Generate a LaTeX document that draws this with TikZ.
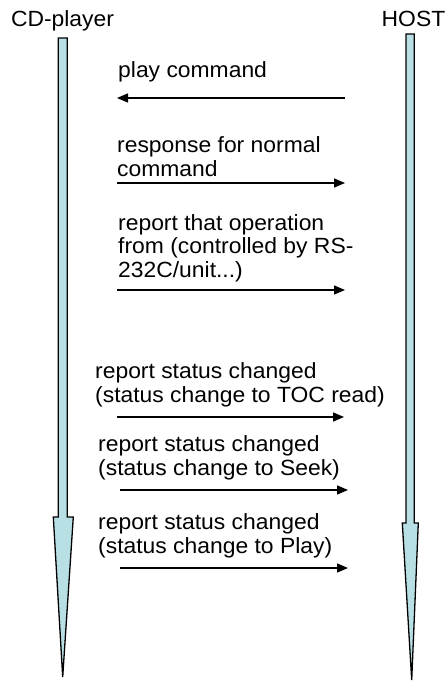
\documentclass[tikz,border=0pt]{standalone}
\usepackage{fontspec}
\setmainfont[FakeStretch=1.04]{Liberation Sans}
\usetikzlibrary{arrows.meta}
\definecolor{lifefill}{RGB}{184,223,228}
\begin{document}
\begin{tikzpicture}[x=1pt,y=-1pt,
  lifeline/.style={draw=black,fill=lifefill,line width=1.3pt,line join=miter},
  msg/.style={draw=black,line width=1.4pt,-{Triangle[length=11pt,width=9pt]}},
  lbl/.style={anchor=base west,inner sep=0pt,align=left,font=\fontsize{22}{23.5}\selectfont},
  head/.style={anchor=base,inner sep=0pt,font=\fontsize{22}{23.5}\selectfont}]
\useasboundingbox (0,0) rectangle (446,682);
% lifelines
\draw[lifeline] (58.3,38) -- (67.3,38) -- (67.3,517) -- (73.3,517) -- (62.7,677)
  -- (53.3,517) -- (58.3,517) -- cycle;
\draw[lifeline] (406,34) -- (414.3,34) -- (414.3,523) -- (418.3,523) -- (411.7,680)
  -- (402.3,523) -- (406,523) -- cycle;
% heads
\node[head] (cd) at (62.5,27) {CD-player};
\node[head] (host) at (413.5,27) {HOST};
% message endpoints
\coordinate (a1l) at (117,98);  \coordinate (a1r) at (345,98);
\coordinate (a2l) at (117,183); \coordinate (a2r) at (345,183);
\coordinate (a3l) at (117,290); \coordinate (a3r) at (345,290);
\coordinate (a4l) at (117,417); \coordinate (a4r) at (344,417);
\coordinate (a5l) at (120,490); \coordinate (a5r) at (348,490);
\coordinate (a6l) at (120,568); \coordinate (a6r) at (348,568);
% labels (base anchor = baseline of last line)
\node[lbl] (m1) at (118,78) {play command};
\node[lbl] (m2) at (117,176) {response for normal\\command};
\node[lbl] (m3) at (118,277) {report that operation\\from (controlled by RS-\\232C/unit...)};
\node[lbl] (m4) at (95,402) {report status changed\\(status change to TOC read)};
\node[lbl] (m5) at (98,475) {report status changed\\(status change to Seek)};
\node[lbl] (m6) at (98,553) {report status changed\\(status change to Play)};
% arrows
\draw[msg] (a1r) -- (a1l);
\draw[msg] (a2l) -- (a2r);
\draw[msg] (a3l) -- (a3r);
\draw[msg] (a4l) -- (a4r);
\draw[msg] (a5l) -- (a5r);
\draw[msg] (a6l) -- (a6r);
\end{tikzpicture}
\end{document}
